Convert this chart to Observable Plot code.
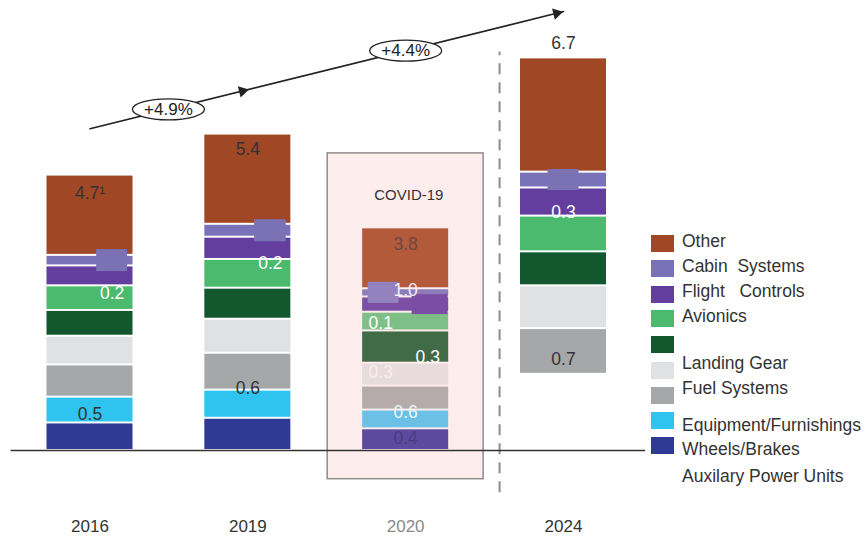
<!DOCTYPE html>
<html><head><meta charset="utf-8">
<script src="https://cdn.jsdelivr.net/npm/d3@7"></script>
<script src="https://cdn.jsdelivr.net/npm/@observablehq/plot@0.6"></script>
<style>
body{margin:0;background:#fff;font-family:"Liberation Sans",Arial,Helvetica,sans-serif;}
#wrap{position:relative;width:868px;height:537px;overflow:hidden;}
#wrap svg{position:absolute;left:0;top:0;}
.sw{position:absolute;width:23px;height:17px;}
.lb{position:absolute;font-size:17.5px;line-height:20px;color:#333;white-space:pre;}
</style></head><body><div id="wrap"></div>
<script>
// ---------- data ----------
const years = ["2016", "2019", "2020", "2024"];
const keys = ["wheels", "equipment", "fuel", "landing", "unlabeled", "avionics", "flight", "cabin", "other"];
const wheels    = [0.47, 0.55, 0.37, 0.65];
const equipment = [0.44, 0.48, 0.32, 0.65];
const fuel      = [0.55, 0.63, 0.41, 0.78];
const landing   = [0.49, 0.58, 0.39, 0.73];
const unlabeled = [0.44, 0.53, 0.55, 0.58];
const avionics  = [0.42, 0.49, 0.32, 0.61];
const flight    = [0.34, 0.38, 0.26, 0.48];
const cabin     = [0.18, 0.22, 0.14, 0.27];
const other     = [1.37, 1.54, 1.04, 1.95];
const totals    = [4.7, 5.4, 3.8, 6.7];
const growthLabels = ["+4.9%", "+4.4%"];
const legendKeys = ["other", "cabin", "flight", "avionics", "unlabeled", "landing", "fuel", "equipment", "wheels"];
const legendLabels = ["Other", "Cabin  Systems", "Flight   Controls", "Avionics", "", "Landing Gear", "Fuel Systems", "Equipment/Furnishings", "Wheels/Brakes", "Auxilary Power Units"];
// segment value labels: year, segment, text
const segLabelYear = ["2016","2016","2016","2019","2019","2019","2020","2020","2020","2020","2020","2020","2020","2024","2024","2024"];
const segLabelKey  = ["other","avionics","equipment","other","avionics","fuel","other","cabin","avionics","unlabeled","landing","equipment","wheels","other","flight","fuel"];
const segLabelText = ["4.7¹","0.2","0.5","5.4","0.2","0.6","3.8","1.0","0.1","0.3","0.3","0.6","0.4","6.7","0.3","0.7"];

// ---------- styles ----------
const values = {wheels, equipment, fuel, landing, unlabeled, avionics, flight, cabin, other};
const colors = {other:"#a04826", cabin:"#7a72b8", flight:"#643e9e", avionics:"#4bba6e", unlabeled:"#12572e",
  landing:"#dfe1e3", fuel:"#a5a7a9", equipment:"#2ec4ef", wheels:"#2e3a93"};
const covidColors = {other:"#b35a3b", cabin:"#8e7cba", flight:"#7b4fa3", avionics:"#7dbf86", unlabeled:"#416a47",
  landing:"#e7dbdb", fuel:"#b5abab", equipment:"#6bc0e5", wheels:"#5b4a9d"};
const labelStyle = { // frac within segment, x offset (index units), colour
  "2016": [[0.77,0,"#333"],[0.69,0.14,"#fff"],[0.32,0,"#333"]],
  "2019": [[0.83,0,"#333"],[0.86,0.143,"#fff"],[0.05,0,"#333"]],
  "2020": [[0.73,0,"#6b4a40"],[0.75,0,"#f4eef6"],[0.4,-0.158,"#fff"],[0.18,0.14,"#fff"],[0.59,-0.158,"#f6f0f0"],[0.88,0,"#eef6fb"],[0.54,0,"#4a3d85"]],
  "2024": [[1.13,0,"#333"],[0.13,0,"#fff"],[0.32,0,"#333"]]
};

// ---------- build table ----------
const rows = [];
years.forEach((yr, i) => {
  let acc = 0;
  keys.forEach(k => {
    const v = values[k][i];
    rows.push({year: yr, i, key: k, y1: acc, y2: acc + v,
      fill: yr === "2020" ? covidColors[k] : colors[k],
      drawn: !(yr === "2024" && (k === "wheels" || k === "equipment"))});
    acc += v;
  });
});
const seg = (yr, k) => rows.find(r => r.year === yr && r.key === k);
const counters = {};
const labels = segLabelText.map((t, j) => {
  const yr = segLabelYear[j], s = seg(yr, segLabelKey[j]);
  const c = counters[yr] = (counters[yr] ?? -1) + 1;
  const [f, dx, col] = labelStyle[yr][c];
  return {x: s.i + dx, y: s.y1 + f * (s.y2 - s.y1), text: t, fill: col};
});
const half = 0.2725;
const markers = [
  {s: seg("2016","cabin"), dx: 0.14, w: 0.196, h: 0.375, fill: "#7b72b6"},
  {s: seg("2019","cabin"), dx: 0.143, w: 0.2, h: 0.375, fill: "#7b72b6"},
  {s: seg("2020","cabin"), dx: -0.14, w: 0.196, h: 0.36, fill: "#9482bf"},
  {s: seg("2020","flight"), dx: 0.155, w: 0.228, h: 0.34, fill: "#7b4ea3"},
  {s: seg("2024","cabin"), dx: 0, w: 0.196, h: 0.36, fill: "#7b72b6"}
].map(m => ({x1: m.s.i + m.dx - m.w/2, x2: m.s.i + m.dx + m.w/2,
  y1: (m.s.y1 + m.s.y2)/2 - m.h/2, y2: (m.s.y1 + m.s.y2)/2 + m.h/2, fill: m.fill}));

const trend = [{x: 0, y: 5.49}, {x: 3, y: 7.49}];
const trendAt = x => 5.49 + x * 2 / 3;
const heads = [{x: 0.966, y: trendAt(0.966)}, {x: 2.957, y: trendAt(2.957) - 0.001}];
const growth = [{x: 0.497, y: trendAt(0.497), text: growthLabels[0]}, {x: 2.0, y: trendAt(2.0), text: growthLabels[1]}];
const covidBox = {x1: 2 - 0.494, x2: 2 + 0.494, y1: -0.49, y2: 5.07};

const ellipse = {draw(ctx) {
  const rx = 36, ry = 10.5, k = 0.5523;
  ctx.moveTo(rx, 0);
  ctx.bezierCurveTo(rx, ry*k, rx*k, ry, 0, ry);
  ctx.bezierCurveTo(-rx*k, ry, -rx, ry*k, -rx, 0);
  ctx.bezierCurveTo(-rx, -ry*k, -rx*k, -ry, 0, -ry);
  ctx.bezierCurveTo(rx*k, -ry, rx, -ry*k, rx, 0);
  ctx.closePath();
}};

const font = '"Liberation Sans", Arial, Helvetica, sans-serif';
const chart = Plot.plot({
  width: 868, height: 537,
  marginTop: 0, marginLeft: 0, marginRight: 0, marginBottom: 18,
  style: {fontFamily: font, background: "transparent"},
  x: {type: "linear", domain: [0, 3], range: [89.5, 563], axis: null},
  y: {type: "linear", domain: [0, 7.5], range: [450, 450 - 7.5 * 58.6], axis: null},
  color: {type: "identity"},
  marks: [
    Plot.rect([covidBox], {x1: "x1", x2: "x2", y1: "y1", y2: "y2", fill: "#fdeeed", stroke: "#8d8d8d", strokeWidth: 1.5}),
    Plot.ruleX([2.595], {y1: -0.72, y2: 6.8, stroke: "#8c8c8c", strokeWidth: 2, strokeDasharray: "11,8"}),
    Plot.rect(rows.filter(d => d.drawn), {x1: d => d.i - half, x2: d => d.i + half, y1: "y1", y2: "y2", fill: "fill", insetTop: 1, insetBottom: 1}),
    Plot.rect(markers, {x1: "x1", x2: "x2", y1: "y1", y2: "y2", fill: "fill"}),
    Plot.ruleY([0], {x1: -0.5, x2: 3.52, stroke: "#333", strokeWidth: 1.5}),
    Plot.text(labels, {x: "x", y: "y", text: "text", fill: "fill", fontSize: 17.5}),
    Plot.text(["COVID-19"], {x: 2.02, y: 4.35, fill: "#333", fontSize: 15}),
    Plot.line(trend, {x: "x", y: "y", stroke: "#222", strokeWidth: 1.6}),
    Plot.dot(heads, {x: "x", y: "y", symbol: "triangle", r: 4.3, fill: "#222", stroke: "none", rotate: 76}),
    Plot.dot(growth, {x: "x", y: "y", symbol: ellipse, fill: "#fff", stroke: "#222", strokeWidth: 1.3}),
    Plot.text(growth, {x: "x", y: "y", text: "text", fill: "#222", fontSize: 17}),
    Plot.text(years, {x: (d, i) => i, frameAnchor: "bottom", lineAnchor: "top", text: d => d,
      fill: d => d === "2020" ? "#8a8a8a" : "#333", fontSize: 17})
  ]
});
const wrap = document.getElementById("wrap");
wrap.appendChild(chart);

// legend (misaligned labels reproduced as in the source)
const swTop = [235, 260, 286, 310, 336, 362, 387, 412, 437];
const lbCenter = [242, 267, 292, 317, null, 364, 389, 426, 450, 477];
legendKeys.forEach((k, j) => {
  const d = document.createElement("div");
  d.className = "sw"; d.style.left = "651px"; d.style.top = swTop[j] + "px"; d.style.background = colors[k];
  wrap.appendChild(d);
});
legendLabels.forEach((t, j) => {
  if (!t) return;
  const d = document.createElement("div");
  d.className = "lb"; d.style.left = "682px"; d.style.top = (lbCenter[j] - 11) + "px"; d.textContent = t;
  wrap.appendChild(d);
});
</script></body></html>
